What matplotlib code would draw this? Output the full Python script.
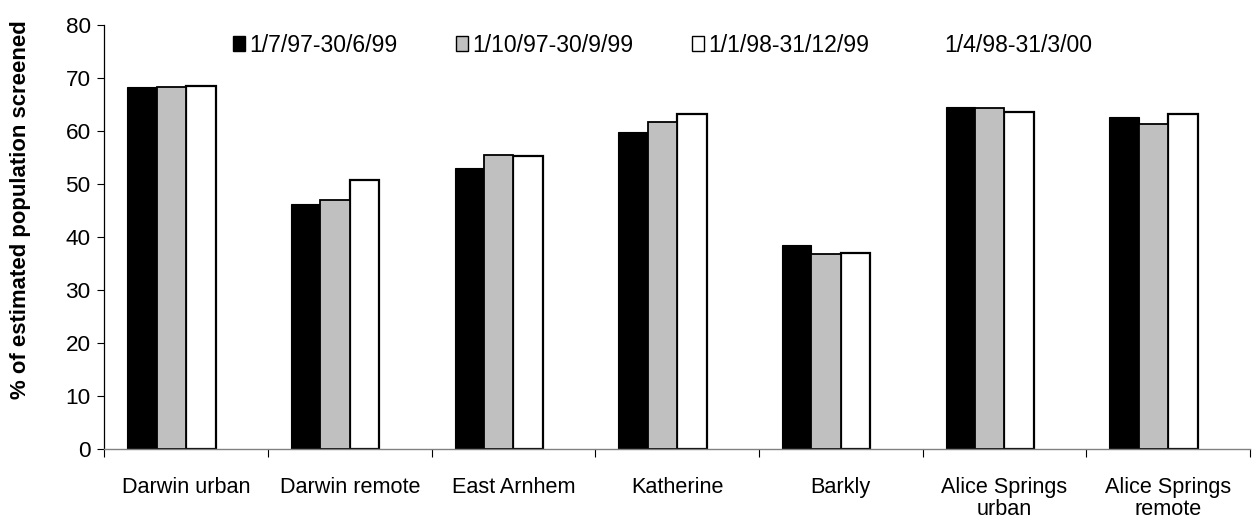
import numpy as np
import matplotlib
matplotlib.use("Agg")
import matplotlib.pyplot as plt
from matplotlib.patches import Patch
from matplotlib.ticker import FixedLocator, NullFormatter

plt.rcParams['font.family'] = ['Liberation Sans', 'DejaVu Sans']

categories = ["Darwin urban", "Darwin remote", "East Arnhem", "Katherine",
              "Barkly", "Alice Springs\nurban", "Alice Springs\nremote"]
series_names = ["1/7/97-30/6/99", "1/10/97-30/9/99", "1/1/98-31/12/99", "1/4/98-31/3/00"]
s1 = [68.2, 46.2, 53.0, 59.8, 38.5, 64.5, 62.6]
s2 = [68.3, 46.9, 55.4, 61.6, 36.8, 64.3, 61.3]
s3 = [68.5, 50.7, 55.3, 63.2, 37.0, 63.6, 63.1]
s4 = [np.nan] * 7  # series shown in legend only, no visible bars
yticks = [0, 10, 20, 30, 40, 50, 60, 70, 80]

W, H = 1254, 524
fig = plt.figure(figsize=(W / 100, H / 100), dpi=100)
ax = fig.add_axes([104.3 / W, 1 - 449 / H, (1250 - 104.3) / W, (449 - 24.7) / H])

x = np.arange(len(categories))
w = 0.18
styles = [dict(color="black", edgecolor="black", linewidth=0.8),
          dict(color="#C0C0C0", edgecolor="black", linewidth=1.3),
          dict(color="white", edgecolor="black", linewidth=1.6),
          dict(color="white", edgecolor="none", linewidth=0)]
data = [s1, s2, s3, s4]
for i, (vals, st) in enumerate(zip(data, styles)):
    ax.bar(x + (i - 1.5) * w, vals, width=w, align="center", zorder=2 + (i == 1) * 0.1, **st)

ax.set_xlim(-0.5, len(categories) - 0.5)
ax.set_ylim(0, 80)
ax.set_yticks(yticks)
ax.tick_params(axis="y", direction="out", length=4.7, width=0.8, pad=5.0, labelsize=16.2)

ax.set_xticks(x)
ax.set_xticklabels(categories, fontsize=15.6, linespacing=1.05)
ax.tick_params(axis="x", which="major", length=0, pad=20)
ax.xaxis.set_minor_locator(FixedLocator(np.arange(-0.5, len(categories), 1.0)))
ax.xaxis.set_minor_formatter(NullFormatter())
ax.tick_params(axis="x", which="minor", direction="out", length=5.5, width=0.8, color="black")

for s in ["top", "right"]:
    ax.spines[s].set_visible(False)
ax.spines["left"].set_linewidth(0.9)
ax.spines["bottom"].set_color("#808080")
ax.spines["bottom"].set_linewidth(1.0)

ax.set_ylabel("% of estimated population screened", fontsize=15.9, fontweight="bold")
ax.yaxis.set_label_coords(-0.064, 0.563)

handles = [Patch(facecolor=st["color"], edgecolor=("black" if i < 3 else "none"), linewidth=1.0)
           for i, st in enumerate(styles)]
fig.legend(handles, series_names, ncol=4, loc="center left",
           bbox_to_anchor=(232.7 / W, 1 - 45 / H), frameon=False, fontsize=16.6,
           handlelength=0.52, handleheight=0.64, handletextpad=0.18,
           columnspacing=2.55, borderpad=0, borderaxespad=0)

fig.savefig("out.png", dpi=100)
